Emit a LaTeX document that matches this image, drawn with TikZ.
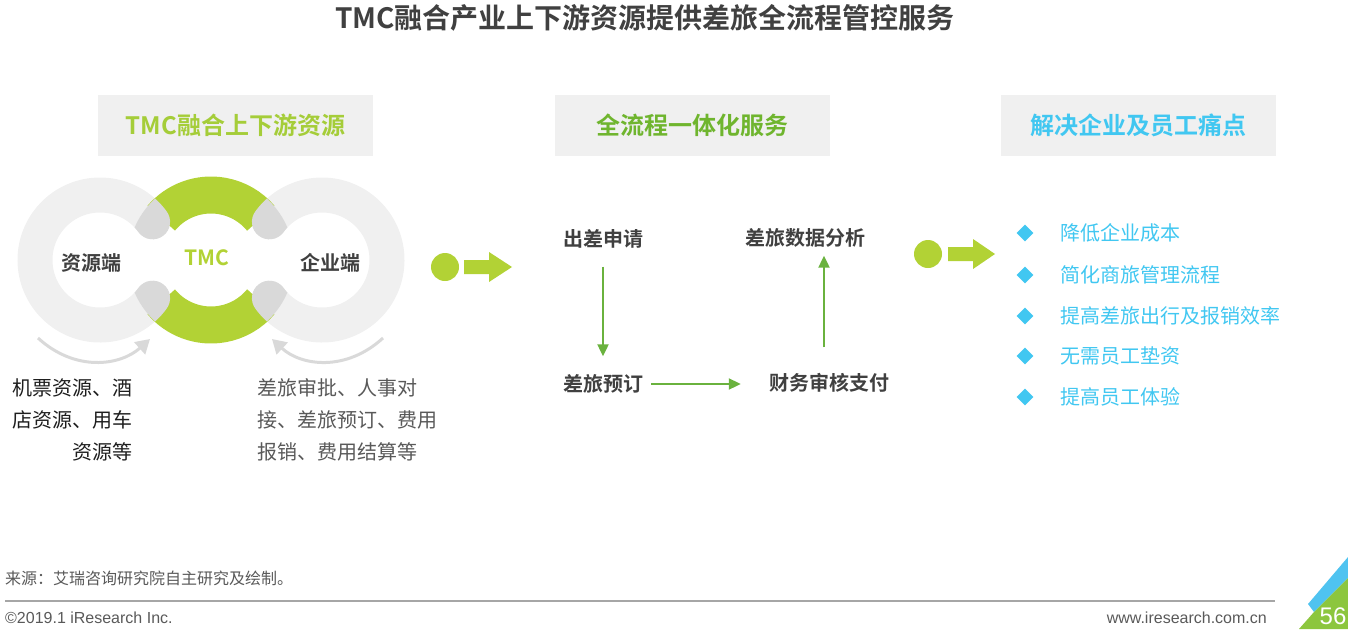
\documentclass[tikz,border=0pt]{standalone}
\usepackage{fontspec}
\setmainfont{Noto Sans CJK SC}[BoldFont=* Bold]
\newfontfamily\arialf{Liberation Sans}
\usetikzlibrary{arrows.meta,shapes.geometric,calc}
\definecolor{ringgray}{HTML}{F0F0F0}
\definecolor{blobgray}{HTML}{D9D9D9}
\definecolor{limegreen}{HTML}{B2D235}
\definecolor{flowgreen}{HTML}{6AB23E}
\definecolor{hdrgreenA}{HTML}{A5CD39}
\definecolor{hdrgreenB}{HTML}{6FB52E}
\definecolor{cyanblue}{HTML}{41C7F1}
\definecolor{darktext}{HTML}{404040}
\definecolor{desctext}{HTML}{595959}
\definecolor{blacktext}{HTML}{1E1E1E}
\definecolor{linegray}{HTML}{A6A6A6}
\definecolor{cornerblue}{HTML}{4FC3F0}
\definecolor{cornergreen}{HTML}{8CC63E}
\begin{document}
\begin{tikzpicture}[x=1pt,y=-1pt,
  hdrbox/.style={fill=ringgray, minimum width=275, minimum height=61, inner sep=0,
    font=\bfseries\fontsize{24}{28}\selectfont},
  ringarc/.style={line width=35, line cap=round},
  greenarc/.style={draw=limegreen, line width=37},
  curvearrow/.style={draw=blobgray, line width=3, -{Triangle[length=14,width=16]}},
  ringlbl/.style={font=\bfseries\fontsize{20}{24}\selectfont, text=darktext, inner sep=0},
  desc/.style={font=\fontsize{20}{32}\selectfont, inner sep=0},
  procbox/.style={font=\bfseries\fontsize{20}{24}\selectfont, text=darktext, inner sep=0},
  flow/.style={draw=flowgreen, line width=2, -{Triangle[length=12,width=11]}},
  bulletmark/.style={diamond, fill=cyanblue, minimum width=17, minimum height=17, inner sep=0},
  bultext/.style={font=\fontsize{20}{24}\selectfont, text=cyanblue, inner sep=0, anchor=west},
  bigarrow/.style={fill=limegreen}
]
\useasboundingbox (0,0) rectangle (1348,629);

% title
\node[font=\bfseries\fontsize{28}{32}\selectfont, text=darktext] (title) at (645,18) {TMC融合产业上下游资源提供差旅全流程管控服务};

% header boxes
\node[hdrbox, text=hdrgreenA] (h1) at (235.5,125.5) {TMC融合上下游资源};
\node[hdrbox, text=hdrgreenB] (h2) at (692,125.5) {全流程一体化服务};
\node[hdrbox, text=cyanblue] (h3) at (1138.5,125.5) {解决企业及员工痛点};

% rings
\draw[ringarc, ringgray] (100,260) ++(36:65) arc[start angle=36, end angle=324, radius=65];
\draw[ringarc, ringgray] (322,260) ++(144:65) arc[start angle=144, end angle=-144, radius=65];
\draw[greenarc] (211,260) ++(140:65) arc[start angle=140, end angle=40, radius=65];
\draw[greenarc] (211,260) ++(220:65) arc[start angle=220, end angle=320, radius=65];
\begin{scope}
  \clip (211,260) circle[radius=83];
  \draw[ringarc, blobgray] (100,260) ++(36:65) arc[start angle=36, end angle=324, radius=65];
  \draw[ringarc, blobgray] (322,260) ++(144:65) arc[start angle=144, end angle=-144, radius=65];
\end{scope}

\node[ringlbl] (res) at (91,263) {资源端};
\node[ringlbl] (ent) at (330,263) {企业端};
\node[font=\bfseries\fontsize{21}{24}\selectfont, text=limegreen, inner sep=0] (tmc) at (207,258) {TMC};

% curved arrows
\coordinate (la1) at (38,338);
\coordinate (la2) at (150,339);
\coordinate (ra1) at (383,338);
\coordinate (ra2) at (272,339);
\draw[curvearrow] (la1) .. controls (75,372) and (120,366) .. (la2);
\draw[curvearrow] (ra1) .. controls (346,372) and (301,366) .. (ra2);

% descriptions
\node[desc, text=blacktext, align=right, anchor=east] (dl) at (133,420) {机票资源、酒\\店资源、用车\\资源等};
\node[desc, text=desctext, align=left, anchor=west] (dr) at (257,420) {差旅审批、人事对\\接、差旅预订、费用\\报销、费用结算等};

% big arrows
\fill[bigarrow] (445,267) circle[radius=14];
\fill[bigarrow] (464,260) -- (489,260) -- (489,252) -- (512,267) -- (489,282) -- (489,274) -- (464,274) -- cycle;
\fill[bigarrow] (928,254) circle[radius=14];
\fill[bigarrow] (948,247) -- (973,247) -- (973,239) -- (995,254) -- (973,269) -- (973,261) -- (948,261) -- cycle;

% process
\node[procbox] (apply) at (603,239) {出差申请};
\node[procbox] (book) at (603,384) {差旅预订};
\node[procbox] (pay) at (829,383) {财务审核支付};
\node[procbox] (ana) at (805,238) {差旅数据分析};
\draw[flow, shorten <=18, shorten >=18] (apply) -- (book);
\draw[flow, shorten <=8, shorten >=28] (book.east) -- (pay.west |- book.east);
\draw[flow, shorten <=26, shorten >=8] ([xshift=-5pt]pay.north) -- ([xshift=19pt]ana.south);

% bullets
\foreach \yy/\tt [count=\i] in {233/降低企业成本, 275/简化商旅管理流程, 316/提高差旅出行及报销效率, 356/无需员工垫资, 397/提高员工体验} {
  \node[bulletmark] (b\i) at (1025,\yy) {};
  \node[bultext] (t\i) at (1060,\yy) {\tt};
}

% footer
\node[anchor=west, font=\fontsize{16}{18}\selectfont, text=desctext, inner sep=0] (src) at (5,578) {来源：艾瑞咨询研究院自主研究及绘制。};
\coordinate (fl1) at (5,601);
\coordinate (fl2) at (1275,601);
\draw[linegray, line width=2] (fl1) -- (fl2);
\node[anchor=west, font=\arialf\fontsize{16}{18}\selectfont, text=desctext, inner sep=0] (copy) at (5,618) {©2019.1 iResearch Inc.};
\node[anchor=east, font=\arialf\fontsize{16}{18}\selectfont, text=desctext, inner sep=0] (web) at (1267,618) {www.iresearch.com.cn};

% corner
\fill[cornerblue] (1308,604) -- (1348,557) -- (1348,578) -- (1314,612) -- cycle;
\fill[cornergreen] (1299,629) -- (1314,612) -- (1348,578) -- (1348,629) -- cycle;
\node[text=white, font=\arialf\fontsize{24}{26}\selectfont, inner sep=0] (page) at (1333,616) {56};
\end{tikzpicture}
\end{document}
